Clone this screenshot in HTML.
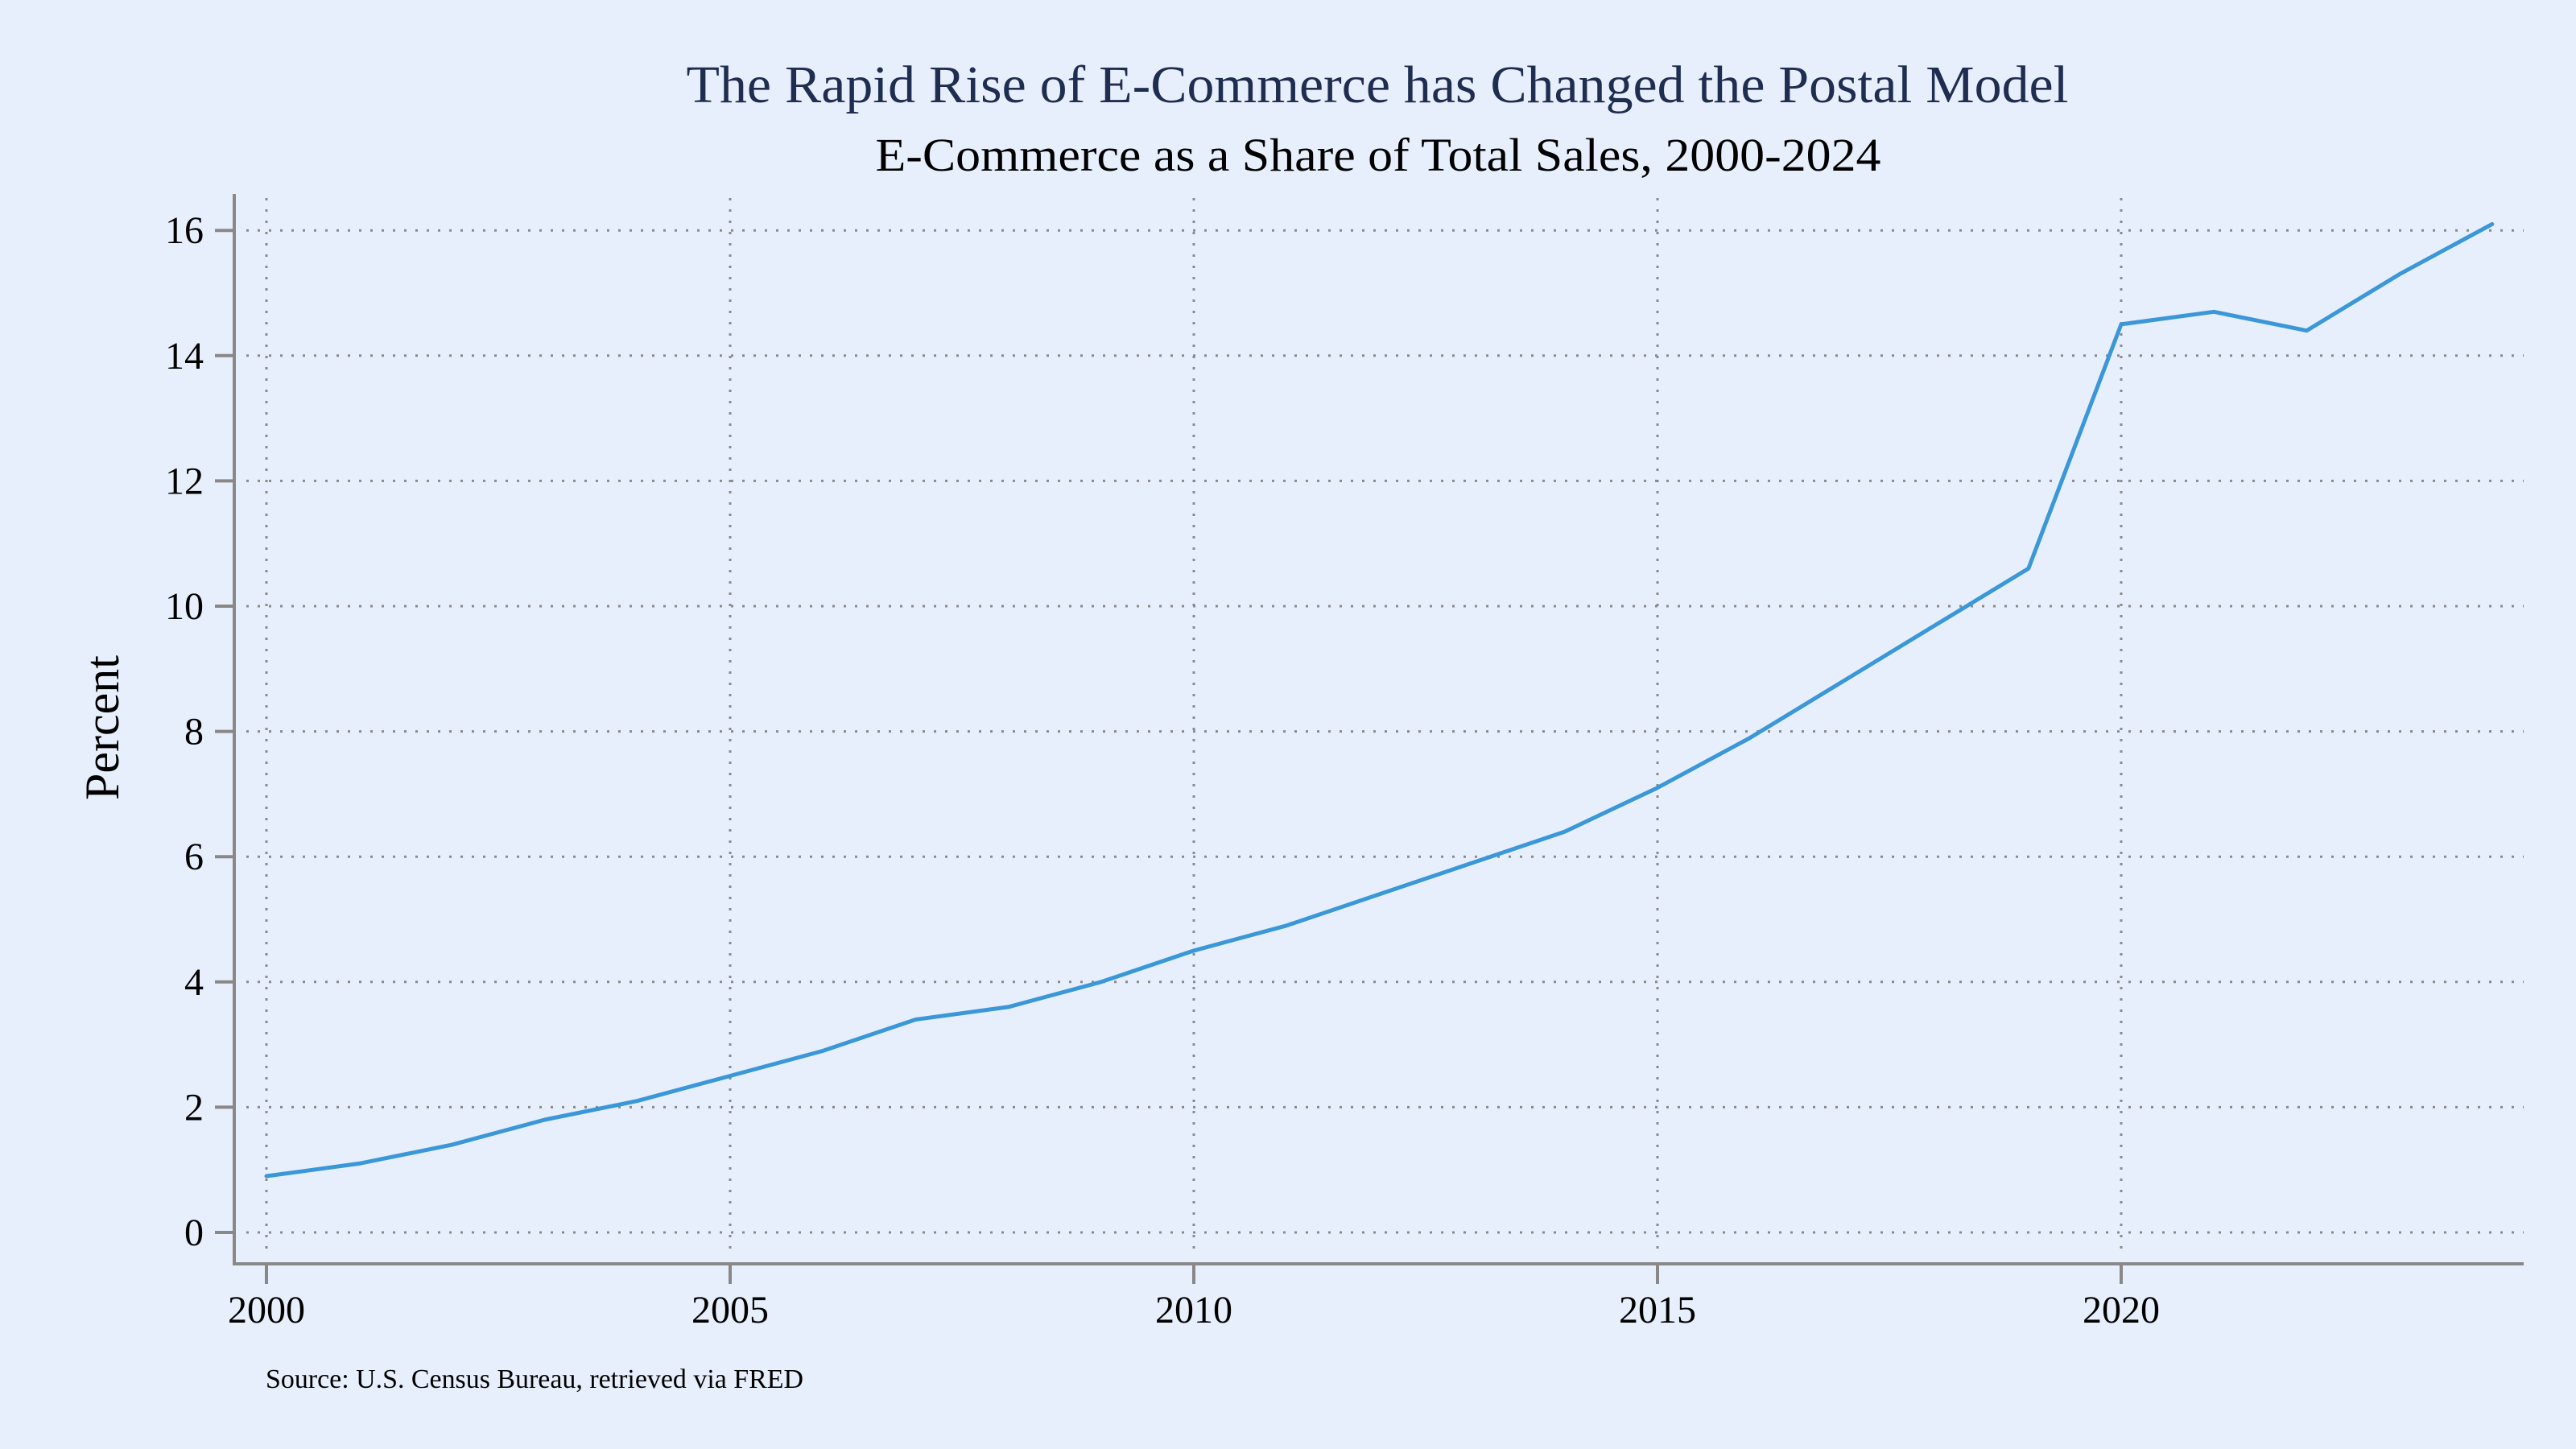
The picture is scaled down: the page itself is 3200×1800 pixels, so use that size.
<!DOCTYPE html>
<html><head><meta charset="utf-8"><style>
html,body{margin:0;padding:0;background:#e8effc;}
svg{display:block;font-family:"Liberation Serif",serif;}
</style></head><body>
<svg id="chart" width="3200" height="1800" viewBox="0 0 3200 1800">
<rect width="3200" height="1800" fill="#e8effc"/>
<text x="1711" y="127" text-anchor="middle" font-size="66" fill="#1f2d50" textLength="1717" lengthAdjust="spacingAndGlyphs">The Rapid Rise of E-Commerce has Changed the Postal Model</text>
<text x="1712" y="212" text-anchor="middle" font-size="58" fill="#000" textLength="1249" lengthAdjust="spacingAndGlyphs">E-Commerce as a Share of Total Sales, 2000-2024</text>
<text transform="translate(147,904) rotate(-90)" text-anchor="middle" font-size="60" fill="#000">Percent</text>
<text x="330" y="1724" font-size="34" fill="#000" textLength="668" lengthAdjust="spacingAndGlyphs">Source: U.S. Census Bureau, retrieved via FRED</text>
<g id="grid"></g>
<g id="axes"></g>
<g id="series"></g>
</svg>
<script>
const years = [2000,2001,2002,2003,2004,2005,2006,2007,2008,2009,2010,2011,2012,2013,2014,2015,2016,2017,2018,2019,2020,2021,2022,2023,2024];
const shares = [0.9,1.1,1.4,1.8,2.1,2.5,2.9,3.4,3.6,4.0,4.5,4.9,5.4,5.9,6.4,7.1,7.9,8.8,9.7,10.6,14.5,14.7,14.4,15.3,16.1];
const xTicks = [2000,2005,2010,2015,2020];
const yTicks = [0,2,4,6,8,10,12,14,16];

const NS = "http://www.w3.org/2000/svg";
const X0 = 331, PX_PER_YEAR = 115.2, Y0 = 1531, PX_PER_UNIT = 77.8;
function xs(v){ return X0 + (v - 2000) * PX_PER_YEAR; }
function ys(v){ return Y0 - v * PX_PER_UNIT; }
function mk(tag, attrs, parent){
  const e = document.createElementNS(NS, tag);
  for (const k in attrs) e.setAttribute(k, attrs[k]);
  parent.appendChild(e);
  return e;
}
const grid = document.getElementById('grid');
const axes = document.getElementById('axes');
const series = document.getElementById('series');
const AX_L = 291, AX_B = 1570, AX_T = 241, AX_R = 3135;

yTicks.forEach(t => {
  const y = ys(t);
  const g = mk('line', {x1: 306, x2: AX_R, y1: y, y2: y, stroke: '#8a8a8a', 'stroke-width': 3, 'stroke-dasharray': '3 11'}, grid);
  
  
  const tk = mk('line', {x1: 267, x2: AX_L, y1: y, y2: y, stroke: '#888', 'stroke-width': 4}, axes);
  
  
  const lb = mk('text', {x: 253, y: y + 16, 'text-anchor': 'end', 'font-size': 48, fill: '#000'}, axes);
  lb.textContent = t;
  
  
});
xTicks.forEach(t => {
  const x = xs(t);
  const g = mk('line', {x1: x, x2: x, y1: AX_T + 5, y2: 1560, stroke: '#8a8a8a', 'stroke-width': 3, 'stroke-dasharray': '3 11'}, grid);
  
  
  const tk = mk('line', {x1: x, x2: x, y1: AX_B, y2: 1595, stroke: '#888', 'stroke-width': 4}, axes);
  
  
  const lb = mk('text', {x: x, y: 1643, 'text-anchor': 'middle', 'font-size': 48, fill: '#000'}, axes);
  lb.textContent = t;
  
  
});
const ya = mk('line', {x1: AX_L, x2: AX_L, y1: AX_T, y2: AX_B + 2, stroke: '#888', 'stroke-width': 4}, axes);


const xa = mk('line', {x1: AX_L - 2, x2: AX_R, y1: AX_B, y2: AX_B, stroke: '#888', 'stroke-width': 4}, axes);



const pts = years.map((yr, i) => xs(yr).toFixed(1) + ',' + ys(shares[i]).toFixed(1)).join(' ');
const line = mk('polyline', {points: pts, fill: 'none', stroke: '#3a97d8', 'stroke-width': 5, 'stroke-linejoin': 'round', 'stroke-linecap': 'round'}, series);


</script>
</body></html>
